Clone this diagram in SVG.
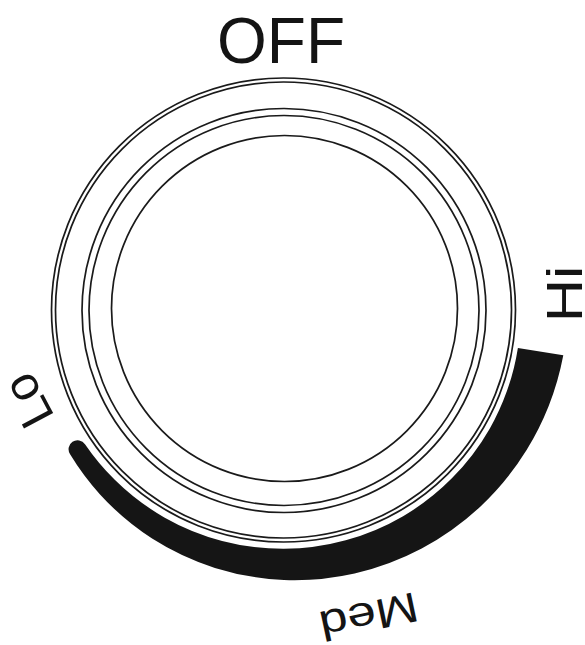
<svg xmlns="http://www.w3.org/2000/svg" width="585" height="645" viewBox="0 0 585 645">
  <style>
    .ring { fill: none; stroke: #1a1a1a; stroke-width: 1.7; }
    .lbl { font-family: "Liberation Sans", Arial, sans-serif; fill: #141414; }
  </style>
  <rect width="585" height="645" fill="#ffffff"/>
  <g id="knob">
    <circle class="ring" cx="283.5" cy="310" r="232"/>
    <circle class="ring" cx="283.5" cy="310" r="228"/>
    <circle class="ring" cx="284" cy="310.5" r="202"/>
    <circle class="ring" cx="284" cy="310.5" r="195"/>
    <circle class="ring" cx="284.5" cy="308.5" r="173"/>
  </g>
  <g id="indicator">
    <path fill="#151515" d="M 85.0,444.2 A 240 240 0 0 0 114.5,479.5 A 239.8 239.8 0 0 0 164.3,517.4 A 239.4 239.4 0 0 0 222.1,540.9 A 239.1 239.1 0 0 0 284,548.8 A 238.8 238.8 0 0 0 345.7,540.3 A 238.4 238.4 0 0 0 403.1,516.2 A 238.1 238.1 0 0 0 452.1,478.1 A 237.8 237.8 0 0 0 489.7,428.75 A 237.5 237.5 0 0 0 506.9,391.1 A 237.2 237.2 0 0 0 517.9,347.9 L 563.3,355.3 A 283 283 0 0 1 548.6,406.3 A 281.5 281.5 0 0 1 526.6,450.1 A 280 280 0 0 1 480.5,506.5 A 277.8 277.8 0 0 1 421.7,548.5 A 275.4 275.4 0 0 1 354.6,573.5 A 272.8 272.8 0 0 1 284,580.0 A 270 270 0 0 1 214.9,567.9 A 267 267 0 0 1 152.1,538.5 A 263.9 263.9 0 0 1 99.8,494.2 A 260.5 260.5 0 0 1 70.1,454.3 A 9 9 0 0 1 85.0,444.2 Z"/>
  </g>
  <g id="label-off">
    <text class="lbl" x="217" y="63" font-size="64">OFF</text>
  </g>
  <g id="label-hi">
    <text class="lbl" font-size="50" text-anchor="middle" transform="translate(581.5,294) rotate(-90) scale(1.2,1)">Hi</text>
  </g>
  <g id="label-lo">
    <text class="lbl" font-size="48" transform="translate(55,416.5) rotate(-118)">Lo</text>
  </g>
  <g id="label-med">
    <text class="lbl" font-size="42" transform="translate(414.7,592) rotate(168) scale(1.22,1)">Med</text>
  </g>
</svg>
